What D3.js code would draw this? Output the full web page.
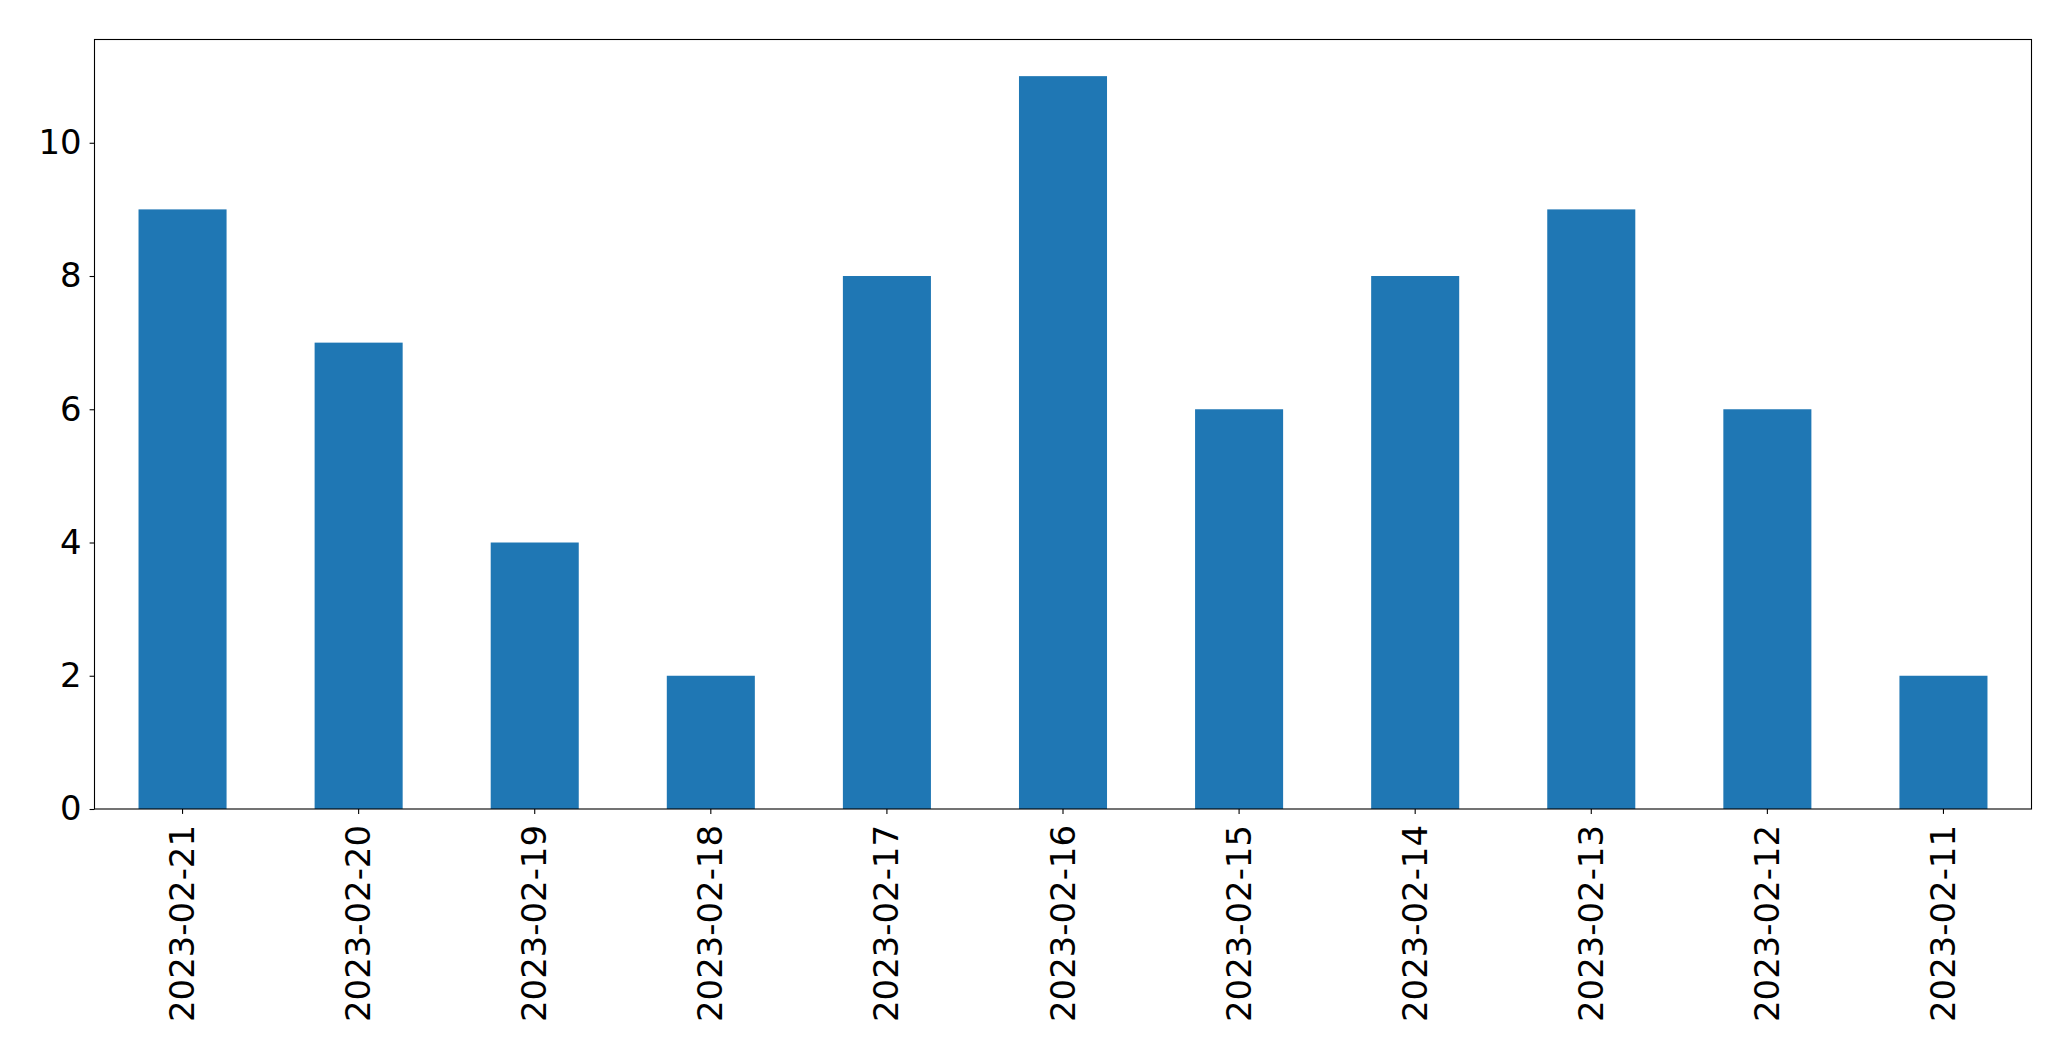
<!DOCTYPE html>
<html><head><meta charset="utf-8">
<script src="https://cdn.jsdelivr.net/npm/d3@7"></script>
<style>body{margin:0;background:#fff}svg{display:block}text{font-family:"DejaVu Sans",sans-serif}</style>
</head><body>
<script>
const categories = ["2023-02-21","2023-02-20","2023-02-19","2023-02-18","2023-02-17","2023-02-16","2023-02-15","2023-02-14","2023-02-13","2023-02-12","2023-02-11"];
const values = [9,7,4,2,8,11,6,8,9,6,2];
const yTicks = [0,2,4,6,8,10];

const W = 2071, H = 1061;
const m = {left: 94.5, right: 2031.5, top: 39.5, bottom: 809};
const svg = d3.select("body").append("svg").attr("width", W).attr("height", H);

const x = d3.scaleBand().domain(categories).range([m.left, m.right]).paddingInner(0.5).paddingOuter(0.25);
const y = d3.scaleLinear().domain([0, d3.max(values) * 1.05]).range([m.bottom, m.top]);

svg.append("g").selectAll("rect").data(values).join("rect")
  .attr("x", (d, i) => x(categories[i]))
  .attr("width", x.bandwidth())
  .attr("y", d => y(d))
  .attr("height", d => y(0) - y(d))
  .attr("fill", "#1f77b4");

const fs = 33.9;
const yAxis = svg.append("g").attr("transform", `translate(${m.left},0)`)
  .call(d3.axisLeft(y).tickValues(yTicks).tickSize(4.9).tickPadding(8).tickFormat(d3.format("d")));
yAxis.select(".domain").remove();
yAxis.selectAll("text").attr("font-size", fs).attr("fill", "#000").attr("font-family", "DejaVu Sans");
yAxis.selectAll("line").attr("stroke", "#000").attr("stroke-width", 1.1);

const xAxis = svg.append("g").attr("transform", `translate(0,${m.bottom})`)
  .call(d3.axisBottom(x).tickSize(4.9));
xAxis.select(".domain").remove();
xAxis.selectAll("line").attr("stroke", "#000").attr("stroke-width", 1.1);
xAxis.selectAll("text")
  .attr("font-size", fs).attr("fill", "#000").attr("font-family", "DejaVu Sans")
  .attr("transform", "rotate(-90)")
  .attr("text-anchor", "end")
  .attr("dominant-baseline", "central")
  .attr("x", -16).attr("y", 0).attr("dy", null);

svg.append("rect").attr("x", m.left).attr("y", m.top)
  .attr("width", m.right - m.left).attr("height", m.bottom - m.top)
  .attr("fill", "none").attr("stroke", "#000").attr("stroke-width", 1.1);
</script>
</body></html>
